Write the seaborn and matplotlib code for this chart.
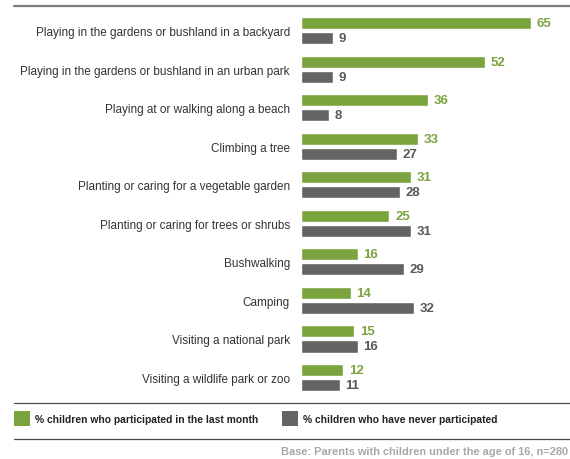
import matplotlib
matplotlib.use("Agg")
import matplotlib.pyplot as plt
from matplotlib.lines import Line2D
from matplotlib.patches import Rectangle
import seaborn as sns
import pandas as pd

activities = [
    "Playing in the gardens or bushland in a backyard",
    "Playing in the gardens or bushland in an urban park",
    "Playing at or walking along a beach",
    "Climbing a tree",
    "Planting or caring for a vegetable garden",
    "Planting or caring for trees or shrubs",
    "Bushwalking",
    "Camping",
    "Visiting a national park",
    "Visiting a wildlife park or zoo",
]
last_month = [65, 52, 36, 33, 31, 25, 16, 14, 15, 12]
never = [9, 9, 8, 27, 28, 31, 29, 32, 16, 11]
series_names = [
    "% children who participated in the last month",
    "% children who have never participated",
]
footnote = "Base: Parents with children under the age of 16, n=280"

GREEN = "#7ba43f"
GREY = "#646466"

df = pd.DataFrame({
    "activity": activities * 2,
    "value": last_month + never,
    "series": [series_names[0]] * len(activities) + [series_names[1]] * len(activities),
})

sns.set_style("white")
plt.rcParams["font.family"] = ["Liberation Sans", "DejaVu Sans"]

W, H = 570, 460
fig = plt.figure(figsize=(W / 100, H / 100), dpi=100)

# axes placed in pixel coordinates (top-left origin)
ax_left, ax_right, ax_top, ax_bottom = 301, 570, 10, 400
ax = fig.add_axes([ax_left / W, 1 - ax_bottom / H, (ax_right - ax_left) / W, (ax_bottom - ax_top) / H])

sns.barplot(
    data=df, y="activity", x="value", hue="series",
    palette=[GREEN, GREY], orient="h", width=0.78, gap=0.2,
    saturation=1, legend=False, ax=ax,
)

ax.set_xlim(0, 76)
ax.set_ylim(9.557, -0.558)
ax.set_xlabel("")
ax.set_ylabel("")
ax.set_xticks([])
ax.tick_params(axis="y", length=0, pad=8, labelsize=8.5, labelcolor="#333333")
for s in ax.spines.values():
    s.set_visible(False)

for cont, col in zip(ax.containers, [GREEN, "#58585a"]):
    ax.bar_label(cont, padding=4, fontsize=9.5, fontweight="bold", color=col)

# horizontal rules
def hline(y, x0, x1, color, lw):
    fig.add_artist(Line2D([x0 / W, x1 / W], [1 - y / H, 1 - y / H],
                          color=color, lw=lw, transform=fig.transFigure))

hline(7, 14, 570, "#7a7a7a", 1.6)
hline(404, 14, 570, "#4a4a4a", 0.9)
hline(440, 14, 570, "#4a4a4a", 0.9)

# legend
for x0, col, name in [(14, GREEN, series_names[0]), (282, GREY, series_names[1])]:
    fig.add_artist(Rectangle((x0 / W, 1 - 427 / H), 16 / W, 15 / H,
                             facecolor=col, edgecolor="none", transform=fig.transFigure))
    fig.text((x0 + 21) / W, 1 - 420 / H, name, fontsize=7.4, fontweight="bold",
             color="#222222", va="center", ha="left")

fig.text(568 / W, 1 - 452 / H, footnote, fontsize=7.9, fontweight="bold",
         color="#a8a8a8", va="center", ha="right")

fig.savefig("out.png", dpi=100)
